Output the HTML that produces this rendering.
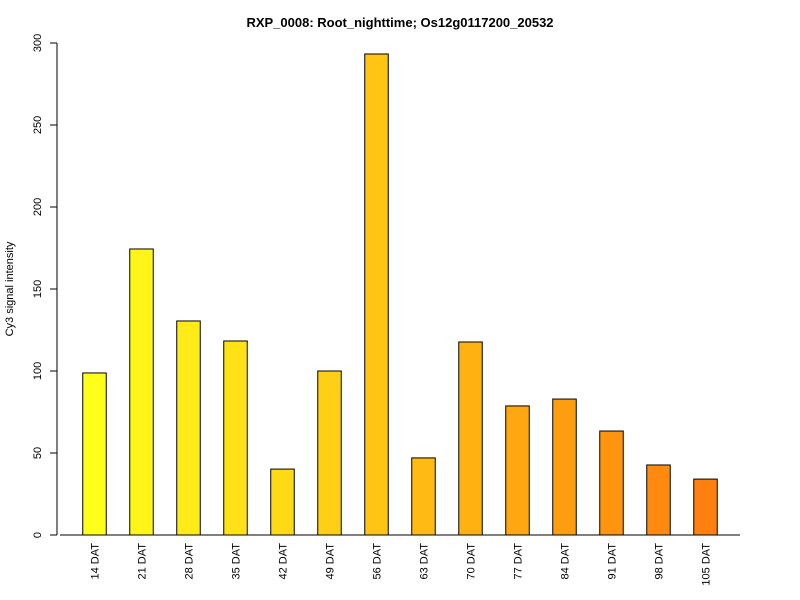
<!DOCTYPE html>
<html><head><meta charset="utf-8"><style>
body{margin:0;background:#fff;}
svg{display:block;font-family:"Liberation Sans",Arial,sans-serif;}
</style></head><body>
<svg id="chart" width="800" height="600">
<text x="400" y="27" text-anchor="middle" font-size="13" font-weight="bold">RXP_0008: Root_nighttime; Os12g0117200_20532</text>
<text transform="translate(13,289) rotate(-90)" text-anchor="middle" font-size="11">Cy3 signal intensity</text>
<g id="yaxis"></g>
<g id="bars"></g>
<line x1="60" y1="535" x2="740" y2="535" stroke="#000"/>
</svg>
<script>
const categories=["14 DAT","21 DAT","28 DAT","35 DAT","42 DAT","49 DAT","56 DAT","63 DAT","70 DAT","77 DAT","84 DAT","91 DAT","98 DAT","105 DAT"];
const values=[98.8,174.4,130.5,118.3,40.2,100,293.3,47,117.7,78.7,82.9,63.4,42.7,34.1];
const yTicks=[0,50,100,150,200,250,300];
const NS="http://www.w3.org/2000/svg";
const y0=535,yTop=43,yMax=300;
function yScale(v){return y0-(v/yMax)*(y0-yTop);}
function xCenter(i){return 94.5+i*47.0;}
const bw=23.5;
function color(i){const t=i/(categories.length-1);const g=Math.round(255-t*(255-128));const b=Math.round(25-t*(25-14));return `rgb(255,${g},${b})`;}
const ya=document.getElementById('yaxis');
function mk(tag,attrs,parent){const e=document.createElementNS(NS,tag);for(const k in attrs)e.setAttribute(k,attrs[k]);parent.appendChild(e);return e;}
const axl=mk('line',{x1:57,x2:57,y1:yScale(yTicks[0]),y2:yScale(yTicks[yTicks.length-1]),stroke:'#000'},ya);


yTicks.forEach(t=>{
const y=yScale(t);
const tk=mk('line',{x1:50,x2:57,y1:y,y2:y,stroke:'#000'},ya);


const tx=mk('text',{transform:`translate(41,${y}) rotate(-90)`,'text-anchor':'middle','font-size':'11'},ya);
tx.textContent=t;


});
const bg=document.getElementById('bars');
values.forEach((v,i)=>{
const cx=xCenter(i);
const r=mk('rect',{x:cx-bw/2,y:yScale(v),width:bw,height:y0-yScale(v),fill:color(i),stroke:'#000','stroke-width':'1'},bg);


const tx=mk('text',{transform:`translate(${cx+4},543) rotate(-90)`,'text-anchor':'end','font-size':'11'},bg);
tx.textContent=categories[i];


});
</script>
</body></html>
